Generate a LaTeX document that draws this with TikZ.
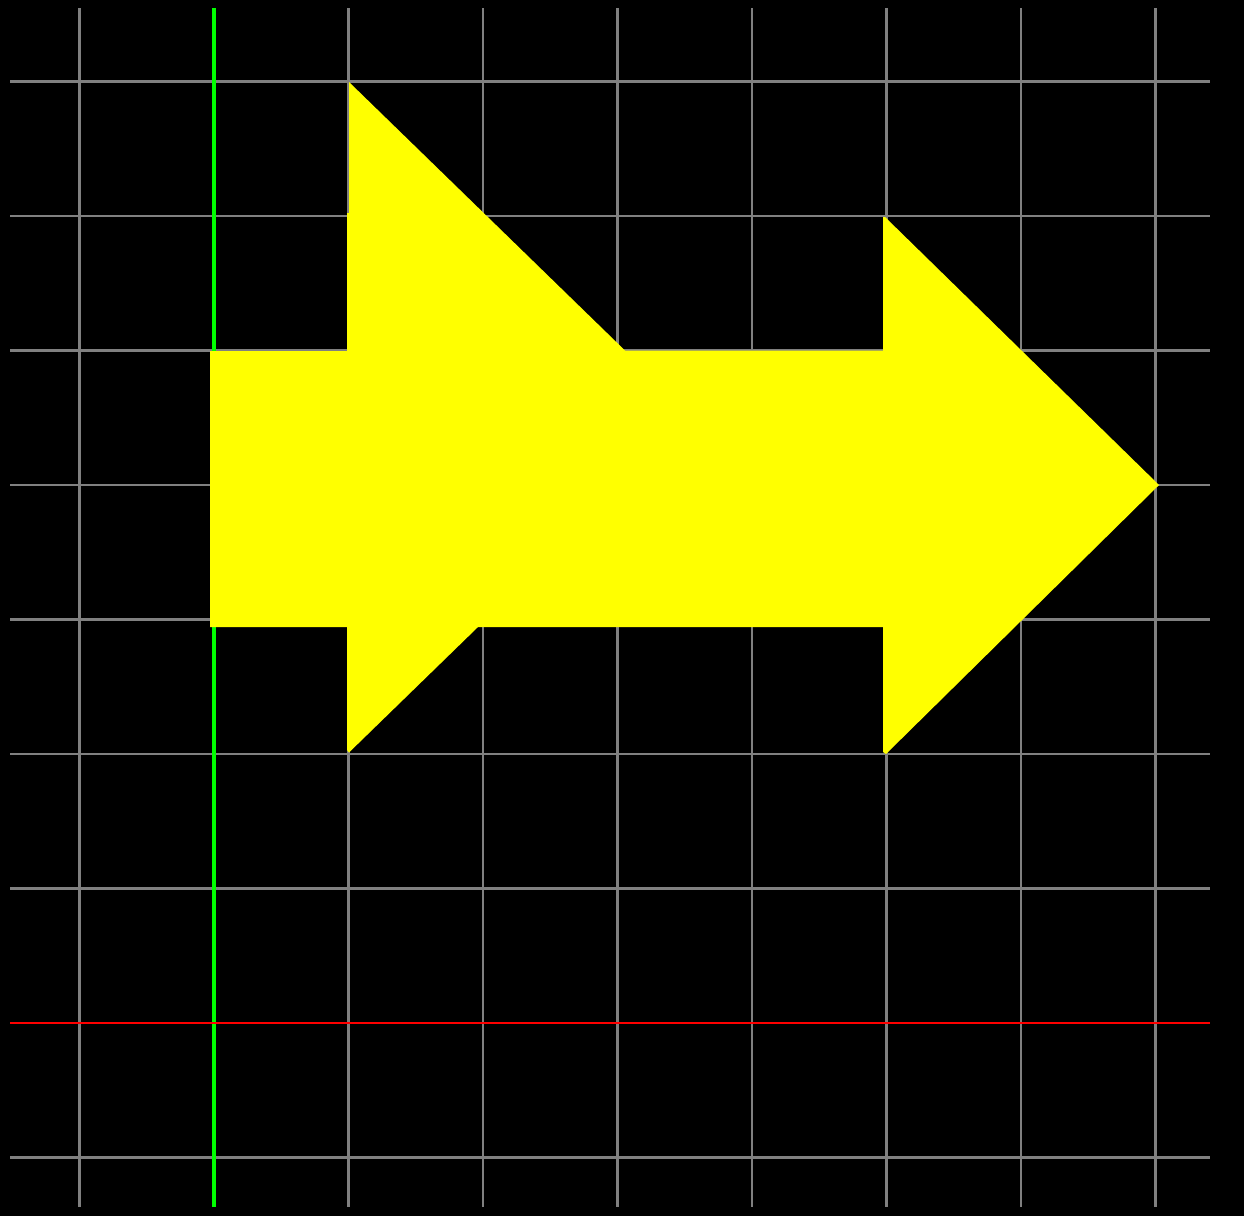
\documentclass[tikz,border=0pt]{standalone}
\begin{document}
\begin{tikzpicture}[x=1pt,y=-1pt,
  gridline/.style={draw={rgb,255:red,128;green,128;blue,128},line width=2.7pt},
  yaxis/.style={draw={rgb,255:red,0;green,255;blue,0},line width=3.6pt},
  xaxis/.style={draw={rgb,255:red,255;green,0;blue,0},line width=2.7pt},
  shapefill/.style={fill={rgb,255:red,255;green,255;blue,0}}]
\fill[black] (0,0) rectangle (1244,1216);
\useasboundingbox (0,0) rectangle (1244,1216);
% grid
\foreach \i in {-1,0,...,7}{
  \path[gridline] ({214+134.5*\i},8) -- ({214+134.5*\i},1207);
  \path[gridline] (10,{1023-134.5*\i}) -- (1210,{1023-134.5*\i});
}
% axes
\path[yaxis] (214,8) -- (214,1207);
\path[xaxis] (10,1023) -- (1210,1023);
% yellow arrow shape
\path[shapefill] (210,351) -- (347,351) -- (347,213) -- (349,213) -- (349,82)
  -- (625,350.5) -- (883,350.5) -- (883,217) -- (885,217)
  -- (1159,485) -- (886,754) -- (883,752) -- (883,627)
  -- (478,627) -- (349,752.5) -- (347,750) -- (347,627) -- (210,627) -- cycle;
\end{tikzpicture}
\end{document}
